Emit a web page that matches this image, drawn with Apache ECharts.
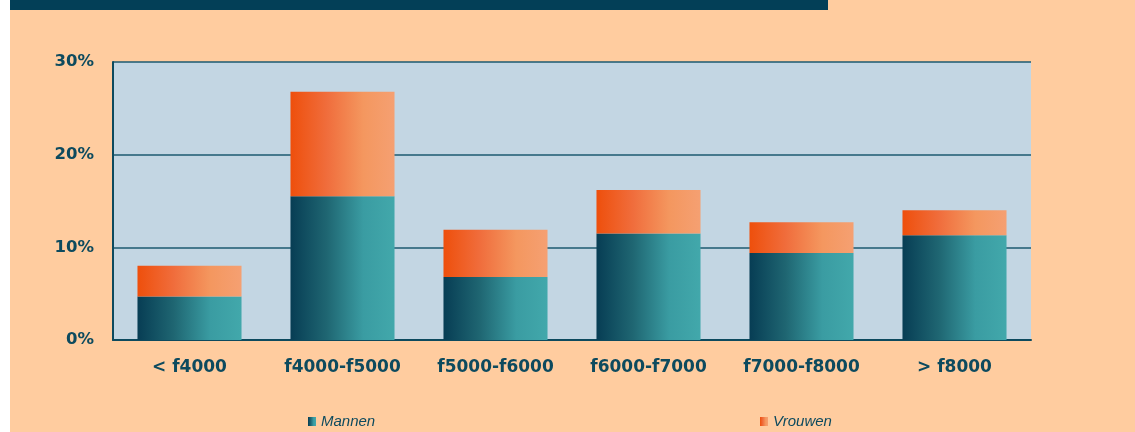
<!DOCTYPE html>
<html>
<head>
<meta charset="utf-8">
<script src="https://cdn.jsdelivr.net/npm/echarts@6/dist/echarts.min.js"></script>
<style>
html,body{margin:0;padding:0;background:#ffffff;}
#chart{width:1135px;height:432px;}
</style>
</head>
<body>
<div id="chart"></div>
<script>
var categories = ['< f4000', 'f4000-f5000', 'f5000-f6000', 'f6000-f7000', 'f7000-f8000', '> f8000'];
var mannen = [4.7, 15.5, 6.8, 11.5, 9.4, 11.3];
var vrouwen = [3.3, 11.3, 5.1, 4.7, 3.3, 2.7];
var yTicks = [0, 10, 20, 30];

var textColor = '#0d4a5e';
var gradM = new echarts.graphic.LinearGradient(0, 0, 1, 0, [
  {offset: 0, color: '#073d54'},
  {offset: 0.35, color: '#1f6672'},
  {offset: 0.7, color: '#3a9ca2'},
  {offset: 1, color: '#42a8ab'}
]);
var gradV = new echarts.graphic.LinearGradient(0, 0, 1, 0, [
  {offset: 0, color: '#ee4f0c'},
  {offset: 0.35, color: '#f06d3c'},
  {offset: 0.7, color: '#f4975f'},
  {offset: 1, color: '#f5a072'}
]);

var chart = echarts.init(document.getElementById('chart'), null, {renderer: 'canvas'});
chart.setOption({
  backgroundColor: '#ffffff',
  animation: false,
  graphic: [
    {type: 'rect', z: -10, silent: true, shape: {x: 10, y: 0, width: 1125, height: 432}, style: {fill: '#ffcc9f'}},
    {type: 'rect', z: -9, silent: true, shape: {x: 10, y: 0, width: 818, height: 10}, style: {fill: '#033f57'}}
  ],
  grid: {
    left: 113, right: 104, top: 62, bottom: 92,
    show: true, backgroundColor: '#c3d6e3', borderWidth: 0
  },
  legend: [
    {
      data: ['Mannen'], left: 303, top: 409, icon: 'rect', itemWidth: 8, itemHeight: 9, itemGap: 6,
      textStyle: {color: textColor, fontStyle: 'italic', fontSize: 15, fontFamily: 'Liberation Sans'}
    },
    {
      data: ['Vrouwen'], left: 755, top: 409, icon: 'rect', itemWidth: 8, itemHeight: 9, itemGap: 6,
      textStyle: {color: textColor, fontStyle: 'italic', fontSize: 15, fontFamily: 'Liberation Sans'}
    }
  ],
  xAxis: {
    type: 'category',
    data: categories,
    axisLine: {show: true, lineStyle: {color: '#0d4a5e', width: 2}},
    axisTick: {show: false},
    axisLabel: {color: textColor, fontWeight: 'bold', fontSize: 17, fontFamily: 'DejaVu Sans', margin: 19}
  },
  yAxis: {
    type: 'value',
    min: yTicks[0], max: yTicks[yTicks.length - 1], interval: 10,
    axisLine: {show: true, lineStyle: {color: '#0d4a5e', width: 2}},
    axisTick: {show: false},
    splitLine: {show: true, lineStyle: {color: '#1d5a70', width: 1.5}},
    axisLabel: {color: textColor, fontWeight: 'bold', fontSize: 16.5, fontFamily: 'DejaVu Sans', margin: 19,
      formatter: function (v) { return v + '%'; }}
  },
  series: [
    {name: 'Mannen', type: 'bar', stack: 'total', data: mannen, barCategoryGap: '32%',
      itemStyle: {color: gradM}},
    {name: 'Vrouwen', type: 'bar', stack: 'total', data: vrouwen,
      itemStyle: {color: gradV}}
  ]
});
</script>
</body>
</html>
